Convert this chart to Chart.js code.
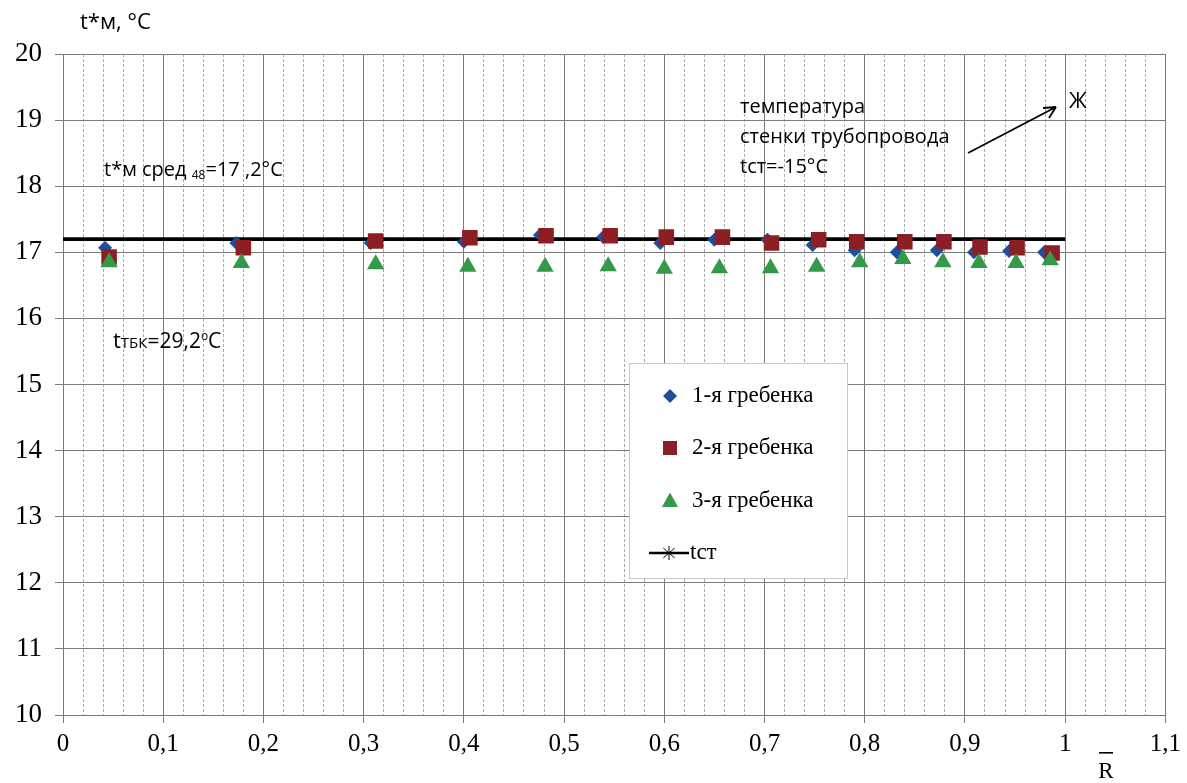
<!DOCTYPE html>
<html>
<head>
<meta charset="utf-8">
<script src="https://cdn.jsdelivr.net/npm/chart.js@4.4.0/dist/chart.umd.min.js"></script>
<style>
  html, body { margin: 0; padding: 0; background: #fff; }
  #wrap { width: 1187px; height: 783px; position: relative; }
</style>
</head>
<body>
<div id="wrap"><canvas id="chart"></canvas></div>
<script>
// ─── Data ───
var seriesNames = ['1-я гребенка', '2-я гребенка', '3-я гребенка', 'tст'];

var r1 = [0.042, 0.173, 0.307, 0.400, 0.476, 0.539, 0.596, 0.650, 0.703, 0.748, 0.790, 0.832, 0.872, 0.909, 0.944, 0.979];
var t1 = [17.07, 17.14, 17.14, 17.16, 17.26, 17.23, 17.14, 17.19, 17.19, 17.11, 17.03, 17.00, 17.03, 17.00, 17.02, 17.00];

var r2 = [0.046, 0.180, 0.312, 0.406, 0.482, 0.546, 0.602, 0.658, 0.707, 0.754, 0.792, 0.840, 0.879, 0.915, 0.952, 0.987];
var t2 = [16.93, 17.07, 17.17, 17.22, 17.25, 17.25, 17.23, 17.23, 17.14, 17.19, 17.16, 17.16, 17.16, 17.08, 17.07, 16.99];

var r3 = [0.046, 0.178, 0.312, 0.404, 0.481, 0.544, 0.600, 0.655, 0.706, 0.752, 0.795, 0.838, 0.878, 0.914, 0.951, 0.985];
var t3 = [16.85, 16.84, 16.82, 16.78, 16.78, 16.79, 16.75, 16.76, 16.76, 16.78, 16.85, 16.90, 16.85, 16.84, 16.84, 16.88];

var rWall = [0, 1];
var tWall = [17.2, 17.2];

var xMin = 0, xMax = 1.1, xStep = 0.02;
var yMin = 10, yMax = 20, yStep = 1;

// ─── Palette ───
var colors = {
  blue: '#1f4e9e',
  red: '#8c1f24',
  green: '#35994a',
  black: '#000000',
  major: '#7a7a7a',
  minor: '#ababab'
};

var serif = 'Liberation Serif';
var sans = '"Open Sans", "Noto Sans", sans-serif';

Chart.defaults.font.family = serif;
Chart.defaults.color = '#000';

function toPoints(xs, ys) {
  return xs.map(function (x, i) { return { x: x, y: ys[i] }; });
}

function isMajorX(value) {
  return Math.round(value * 50) % 5 === 0;
}

// ─── Text with mixed sizes (subscripts / superscripts) ───
function drawRuns(ctx, x, y, runs) {
  runs.forEach(function (run) {
    ctx.font = run[1] + 'px ' + sans;
    ctx.fillText(run[0], x, y + (run[2] || 0));
    x += ctx.measureText(run[0]).width;
  });
}

function legendMarker(ctx, style, cx, cy, r, color) {
  ctx.fillStyle = color;
  ctx.beginPath();
  if (style === 'rectRot') {
    ctx.moveTo(cx, cy - r); ctx.lineTo(cx + r, cy); ctx.lineTo(cx, cy + r); ctx.lineTo(cx - r, cy);
  } else if (style === 'rect') {
    ctx.rect(cx - r, cy - r, 2 * r, 2 * r);
  } else {
    ctx.moveTo(cx, cy - r); ctx.lineTo(cx + r * 0.95, cy + r * 0.7); ctx.lineTo(cx - r * 0.95, cy + r * 0.7);
  }
  ctx.closePath();
  ctx.fill();
}

var annotations = {
  id: 'annotations',
  afterDraw: function (chart) {
    var ctx = chart.ctx;
    ctx.save();
    ctx.fillStyle = '#000';
    ctx.textAlign = 'left';
    ctx.textBaseline = 'alphabetic';

    // axis titles
    drawRuns(ctx, 80, 29, [['t*м, °C', 22]]);
    ctx.font = '23px "' + serif + '"';
    ctx.textAlign = 'center';
    ctx.fillText('R', 1106, 778);
    ctx.fillRect(1099, 752, 14, 1.6);
    ctx.textAlign = 'left';

    // mean temperature note
    drawRuns(ctx, 104, 176, [['t*м сред ', 20], ['48', 12, 3], ['=17 ,2°C', 20]]);
    // bath temperature note
    drawRuns(ctx, 113, 348, [['t', 22], ['ТБК', 15], ['=29,2', 21], ['o', 12, -8], ['C', 21]]);

    // wall temperature note
    drawRuns(ctx, 740, 113, [['температура', 20]]);
    drawRuns(ctx, 740, 143, [['стенки трубопровода', 20]]);
    drawRuns(ctx, 740, 173, [['tст=-15°C', 20]]);

    // arrow to Ж
    ctx.strokeStyle = '#000';
    ctx.lineWidth = 1.8;
    ctx.beginPath();
    ctx.moveTo(968, 153);
    ctx.lineTo(1056, 107);
    ctx.moveTo(1056, 107);
    ctx.lineTo(1043, 108);
    ctx.moveTo(1056, 107);
    ctx.lineTo(1049, 118);
    ctx.stroke();
    ctx.font = '21px ' + sans;
    ctx.fillText('Ж', 1069, 108);

    // legend box
    var bx = 629, by = 363, bw = 218, bh = 215;
    ctx.fillStyle = '#fff';
    ctx.fillRect(bx, by, bw, bh);
    ctx.strokeStyle = '#c8c8c8';
    ctx.lineWidth = 1;
    ctx.strokeRect(bx + 0.5, by + 0.5, bw, bh);

    var rows = [396, 448, 501, 553];
    var ds = chart.data.datasets;
    ctx.textBaseline = 'middle';
    ctx.font = '23px "' + serif + '"';
    legendMarker(ctx, 'rectRot', 670, rows[0], 7, ds[0].backgroundColor);
    legendMarker(ctx, 'rect', 670, rows[1], 7, ds[1].backgroundColor);
    legendMarker(ctx, 'triangle', 670, rows[2], 8.5, ds[2].backgroundColor);
    ctx.strokeStyle = '#000';
    ctx.lineWidth = 2.5;
    ctx.beginPath();
    ctx.moveTo(649, rows[3]); ctx.lineTo(689, rows[3]);
    ctx.stroke();
    ctx.lineWidth = 1;
    ctx.beginPath();
    for (var a = 0; a < 4; a++) {
      var ang = a * Math.PI / 4;
      ctx.moveTo(669 - 8 * Math.cos(ang), rows[3] - 7 * Math.sin(ang));
      ctx.lineTo(669 + 8 * Math.cos(ang), rows[3] + 7 * Math.sin(ang));
    }
    ctx.stroke();
    ctx.fillStyle = '#000';
    ctx.fillText(seriesNames[0], 692, rows[0]);
    ctx.fillText(seriesNames[1], 692, rows[1]);
    ctx.fillText(seriesNames[2], 692, rows[2]);
    ctx.fillText(seriesNames[3], 690, rows[3]);
    ctx.restore();
  }
};

new Chart(document.getElementById('chart'), {
  type: 'scatter',
  data: {
    datasets: [
      {
        label: seriesNames[0],
        data: toPoints(r1, t1),
        pointStyle: 'rectRot',
        pointRadius: 7,
        backgroundColor: colors.blue,
        borderColor: colors.blue,
        borderWidth: 0,
        order: 2
      },
      {
        label: seriesNames[1],
        data: toPoints(r2, t2),
        pointStyle: 'rect',
        pointRadius: 11,
        backgroundColor: colors.red,
        borderColor: colors.red,
        borderWidth: 0,
        order: 1
      },
      {
        label: seriesNames[2],
        data: toPoints(r3, t3),
        pointStyle: 'triangle',
        pointRadius: 10,
        backgroundColor: colors.green,
        borderColor: colors.green,
        borderWidth: 0,
        order: 0
      },
      {
        label: seriesNames[3],
        data: toPoints(rWall, tWall),
        showLine: true,
        pointRadius: 0,
        pointStyle: 'star',
        borderColor: colors.black,
        backgroundColor: colors.black,
        borderWidth: 3.6,
        order: 3
      }
    ]
  },
  options: {
    responsive: true,
    maintainAspectRatio: false,
    animation: false,
    layout: { padding: { top: 54, right: 18, left: 0, bottom: 0 } },
    plugins: {
      legend: { display: false },
      tooltip: { enabled: false }
    },
    scales: {
      x: {
        type: 'linear',
        min: xMin,
        max: xMax,
        afterFit: function (scale) { scale.height = 68; },
        ticks: {
          stepSize: xStep,
          autoSkip: false,
          maxRotation: 0,
          padding: 6,
          color: '#000',
          font: { family: serif, size: 25 },
          callback: function (value) {
            if (!isMajorX(value)) return '';
            return String(Math.round(value * 50) / 50).replace('.', ',');
          }
        },
        grid: {
          color: function (c) { return isMajorX(c.tick.value) ? colors.major : colors.minor; },
          tickColor: function (c) { return isMajorX(c.tick.value) ? colors.major : 'rgba(0,0,0,0)'; },
          lineWidth: 1,
          tickLength: 8
        },
        border: {
          color: colors.major,
          dash: function (c) { return (c.tick && !isMajorX(c.tick.value)) ? [3, 2] : []; }
        }
      },
      y: {
        type: 'linear',
        min: yMin,
        max: yMax,
        afterFit: function (scale) { scale.width = 63; },
        ticks: {
          stepSize: yStep,
          padding: 13,
          color: '#000',
          font: { family: serif, size: 27 }
        },
        grid: {
          color: colors.major,
          tickColor: colors.major,
          lineWidth: 1,
          tickLength: 8
        },
        border: { color: colors.major }
      }
    }
  },
  plugins: [annotations]
});
</script>
</body>
</html>
